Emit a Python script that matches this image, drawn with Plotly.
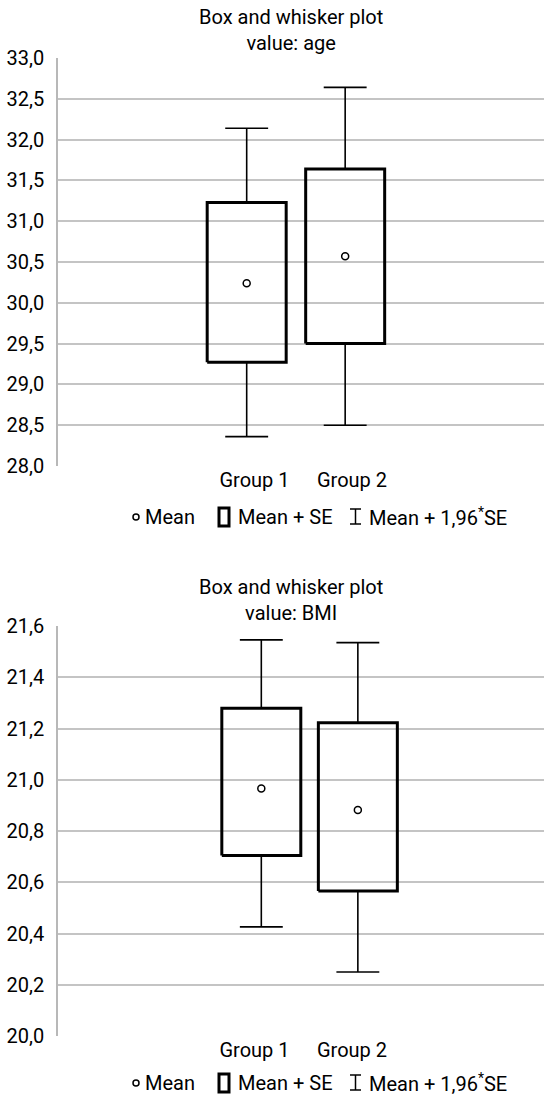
import plotly.graph_objects as go

W, H = 544, 1098

# ---- data -------------------------------------------------------------
groups = ["Group 1", "Group 2"]
group_ticks = [1, 2]

age_mean = [30.24, 30.57]
age_se_low = [29.27, 29.50]
age_se_high = [31.23, 31.64]
age_ci_low = [28.36, 28.50]
age_ci_high = [32.14, 32.64]
age_ticks = [28.0, 28.5, 29.0, 29.5, 30.0, 30.5, 31.0, 31.5, 32.0, 32.5, 33.0]

bmi_mean = [20.966, 20.882]
bmi_se_low = [20.704, 20.566]
bmi_se_high = [21.279, 21.222]
bmi_ci_low = [20.426, 20.250]
bmi_ci_high = [21.546, 21.535]
bmi_ticks = [20.0, 20.2, 20.4, 20.6, 20.8, 21.0, 21.2, 21.4, 21.6]

# ---- layout constants --------------------------------------------------
FONT = "Roboto"
BOX_HW = 0.405     # half width of the SE box (x units)
CAP_HW = 0.22      # half width of whisker caps (x units)
X_RANGE = [-1.015, 3.969]
age_pos = [0.92, 1.93]
bmi_pos = [1.07, 2.06]


def px(x):
    return x / W


def py(y):
    return 1 - y / H


def panel(pos, mean, lo, hi, wlo, whi, xa, ya):
    bx, by, wx, wy = [], [], [], []
    for p, m, l, h, a, b in zip(pos, mean, lo, hi, wlo, whi):
        bx += [p - BOX_HW, p + BOX_HW, p + BOX_HW, p - BOX_HW, p - BOX_HW, None]
        by += [l, l, h, h, l, None]
        wx += [p, p, None, p, p, None,
               p - CAP_HW, p + CAP_HW, None, p - CAP_HW, p + CAP_HW, None]
        wy += [h, b, None, l, a, None, b, b, None, a, a, None]
    return [
        go.Scatter(x=wx, y=wy, mode="lines", xaxis=xa, yaxis=ya,
                   line=dict(color="black", width=1.6), hoverinfo="skip",
                   showlegend=False),
        go.Scatter(x=bx, y=by, mode="lines", xaxis=xa, yaxis=ya,
                   line=dict(color="black", width=3), hoverinfo="skip",
                   showlegend=False),
        go.Scatter(x=pos, y=mean, mode="markers", xaxis=xa, yaxis=ya,
                   marker=dict(symbol="circle-open", size=7, color="black",
                               line=dict(width=1.5, color="black")),
                   showlegend=False),
    ]


fig = go.Figure()
for t in panel(age_pos, age_mean, age_se_low, age_se_high, age_ci_low,
               age_ci_high, "x", "y"):
    fig.add_trace(t)
for t in panel(bmi_pos, bmi_mean, bmi_se_low, bmi_se_high, bmi_ci_low,
               bmi_ci_high, "x2", "y2"):
    fig.add_trace(t)

xcommon = dict(range=X_RANGE, tickvals=group_ticks, ticktext=groups,
               showgrid=False, zeroline=False, showline=False, ticks="",
               tickfont=dict(size=20, color="black"), domain=[px(58), 1],
               fixedrange=True)
ycommon = dict(tickformat=".1f", showgrid=True, gridcolor="#c4c4c4",
               gridwidth=1.5, zeroline=False, showline=True,
               linecolor="#b8b8b8", linewidth=1.5, ticks="",
               ticklabelstandoff=8, tickfont=dict(size=20, color="black"),
               automargin=False, fixedrange=True)

fig.update_layout(
    width=W, height=H,
    margin=dict(l=0, r=0, t=0, b=0),
    paper_bgcolor="white", plot_bgcolor="white",
    separators=", ",
    font=dict(family=FONT, size=20, color="black"),
    showlegend=False,
    xaxis=dict(anchor="y", **xcommon),
    xaxis2=dict(anchor="y2", **xcommon),
    yaxis=dict(anchor="x", range=[28, 33], tickvals=age_ticks,
               domain=[py(466), py(58)], **ycommon),
    yaxis2=dict(anchor="x2", range=[20, 21.6], tickvals=bmi_ticks,
                domain=[py(1036), py(626)], **ycommon),
)

# titles
for ytop, name in [(30, "age"), (600, "BMI")]:
    fig.add_annotation(text="Box and whisker plot<br>value: " + name,
                       xref="paper", yref="paper", x=px(291), y=py(ytop),
                       xanchor="center", yanchor="middle", showarrow=False,
                       font=dict(size=20, color="black"))


# legends: symbol shapes + text
def legend(yc):
    shapes = [
        dict(type="circle", xref="paper", yref="paper",
             x0=px(133), x1=px(139), y0=py(yc - 3), y1=py(yc + 3),
             line=dict(color="black", width=1.5)),
        dict(type="rect", xref="paper", yref="paper",
             x0=px(219), x1=px(229), y0=py(yc + 9), y1=py(yc - 9),
             line=dict(color="black", width=3)),
        dict(type="line", xref="paper", yref="paper",
             x0=px(355.5), x1=px(355.5), y0=py(yc + 7), y1=py(yc - 8),
             line=dict(color="black", width=1.5)),
        dict(type="line", xref="paper", yref="paper",
             x0=px(350), x1=px(361), y0=py(yc - 8), y1=py(yc - 8),
             line=dict(color="black", width=1.5)),
        dict(type="line", xref="paper", yref="paper",
             x0=px(350), x1=px(361), y0=py(yc + 7), y1=py(yc + 7),
             line=dict(color="black", width=1.5)),
    ]
    for s in shapes:
        fig.add_shape(**s)
    for x0, txt in [(143, "Mean"), (236, "Mean + SE"),
                    (367, "Mean + 1,96<sup>*</sup>SE")]:
        fig.add_annotation(text=txt, xref="paper", yref="paper", x=px(x0),
                           y=py(yc), xanchor="left", yanchor="middle",
                           showarrow=False, font=dict(size=20, color="black"))


legend(517)
legend(1083)

fig.write_html("out.html")
